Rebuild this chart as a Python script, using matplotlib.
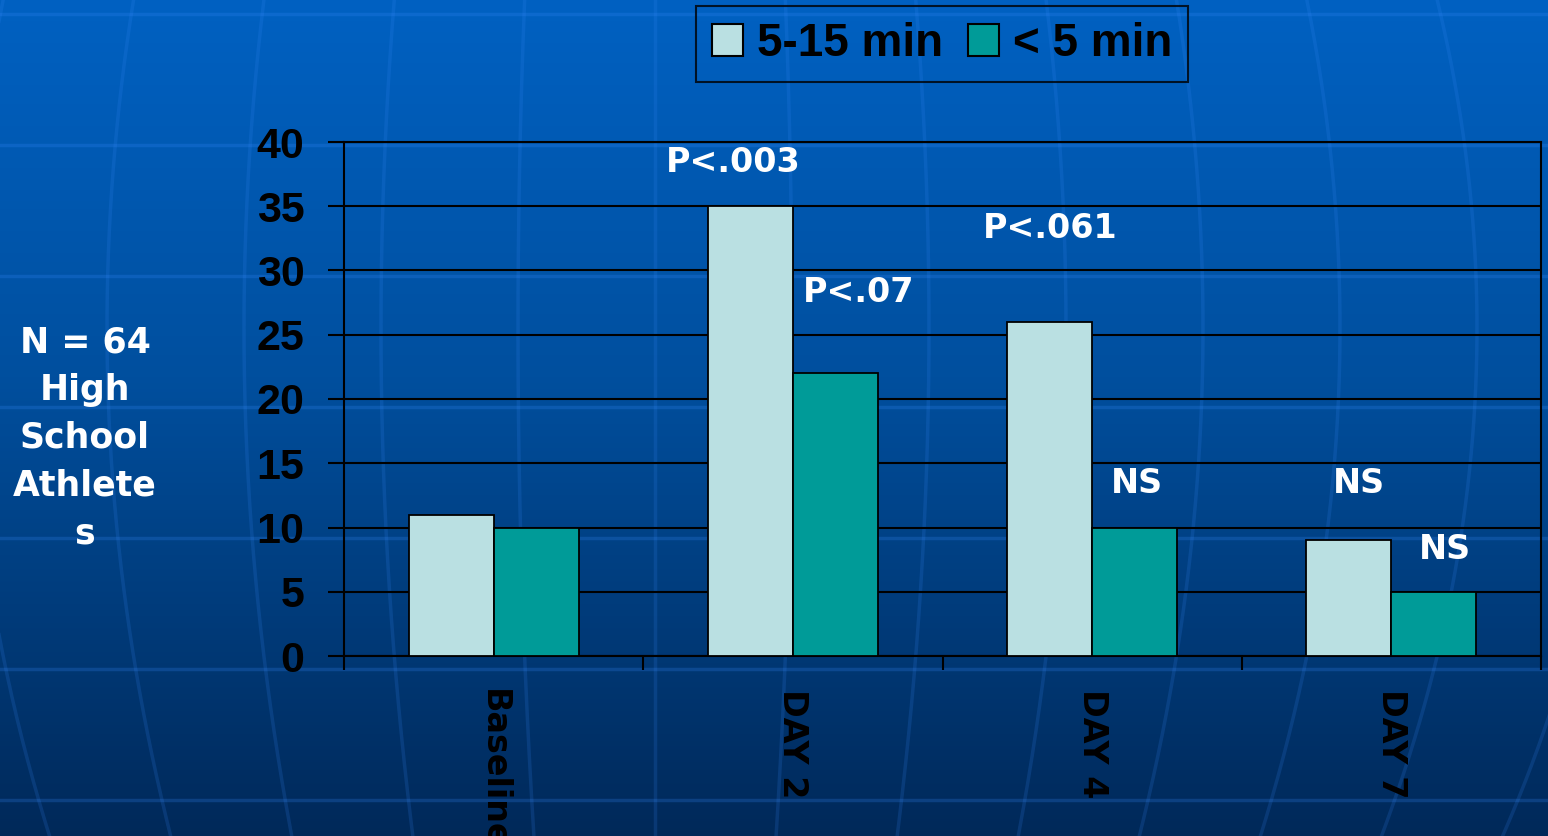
import numpy as np
import matplotlib.pyplot as plt
from matplotlib.colors import LinearSegmentedColormap
from matplotlib.patches import Patch

# concussion symptom counts by day after injury
categories = ['Baseline', 'DAY 2', 'DAY 4', 'DAY 7']
series_names = ['5-15 min', '< 5 min']
long_loss = [11, 35, 26, 9]    # 5-15 min
short_loss = [10, 22, 10, 5]   # < 5 min

# significance notes: (x in category units, y in data units, text)
notes = [
    (0.80, 38.4, 'P<.003'),
    (1.22, 28.3, 'P<.07'),
    (1.86, 33.3, 'P<.061'),
    (2.15, 13.4, 'NS'),
    (2.89, 13.4, 'NS'),
    (3.18, 8.3, 'NS'),
]
side_lines = ['N = 64', 'High', 'School', 'Athlete', 's']

W, H = 1548, 836
fig = plt.figure(figsize=(W / 100, H / 100), dpi=100)

# slide background: blue gradient with faint globe lines
bg = fig.add_axes([0, 0, 1, 1], zorder=-1)
cmap = LinearSegmentedColormap.from_list(
    'slide', [(0.0, (0.0, 0.38, 0.76)), (0.45, (0.0, 0.31, 0.62)), (1.0, (0.0, 0.16, 0.35))])
grad = np.linspace(0, 1, 400).reshape(-1, 1)
bg.imshow(grad, cmap=cmap, aspect='auto', extent=[0, W, H, 0])
for yy in np.arange(14, H, 131):
    bg.axhline(yy, color='#3a8cff', alpha=0.22, lw=2.5)
ys = np.linspace(0, H, 200)
g = 1 - 4.5e-7 * (ys - 328) ** 2
for k in range(-5, 8):
    bg.plot(655 + 137 * k * g, ys, color='#3a8cff', alpha=0.16, lw=2.5)
bg.set_xlim(0, W)
bg.set_ylim(H, 0)
bg.axis('off')

ax = fig.add_axes([344 / W, 1 - 656 / H, 1197 / W, 514 / H])
ax.patch.set_alpha(0)

x = np.arange(len(categories))
width = 0.284
b1 = ax.bar(x - width / 2, long_loss, width, color='#bae0e2', edgecolor='black', lw=1.3, zorder=3)
b2 = ax.bar(x + width / 2, short_loss, width, color='#009b98', edgecolor='black', lw=1.3, zorder=3)

ax.set_xlim(-0.5, len(categories) - 0.5)
ax.set_ylim(0, 40)
ax.set_yticks(np.arange(0, 41, 5))
ax.yaxis.grid(True, color='black', lw=1.5)
ax.set_axisbelow(True)
for s in ax.spines.values():
    s.set_color('black')
    s.set_linewidth(1.5)

ax.set_xticks(np.arange(-0.5, len(categories)))
ax.set_xticklabels([])
ax.set_xticks(x, minor=True)
ax.set_xticklabels(categories, minor=True, rotation=-90, fontsize=24,
                   fontweight='bold', family='DejaVu Sans')
ax.tick_params(axis='x', which='major', length=10, width=1.5, direction='out')
ax.tick_params(axis='x', which='minor', length=0, pad=24)
ax.tick_params(axis='y', length=11.5, width=1.5, direction='out', pad=17)
for lab in ax.get_yticklabels():
    lab.set_fontsize(31)
    lab.set_fontweight('bold')
    lab.set_family('Liberation Sans')

for nx, ny, txt in notes:
    ax.text(nx, ny, txt, color='white', fontsize=24, fontweight='bold',
            family='DejaVu Sans', ha='center', va='center')

for i, line in enumerate(side_lines):
    fig.text(85 / W, 1 - (342 + 48 * i) / H, line, color='white', fontsize=25,
             fontweight='bold', family='DejaVu Sans', ha='center', va='center')

handles = [Patch(facecolor='#bae0e2', edgecolor='black', lw=1.5),
           Patch(facecolor='#009b98', edgecolor='black', lw=1.5)]
leg = fig.legend(handles, series_names, loc='upper center', bbox_to_anchor=(942 / W, 1 - 6 / H),
                 ncol=2, frameon=True, fancybox=False, handlelength=0.68, handleheight=0.68,
                 handletextpad=0.3, columnspacing=0.55, borderpad=0.35, borderaxespad=0,
                 prop={'family': 'Liberation Sans', 'weight': 'bold', 'size': 33})
leg.get_frame().set_edgecolor('black')
leg.get_frame().set_linewidth(1.5)
leg.get_frame().set_facecolor('none')

fig.savefig('out.png', dpi=100)
